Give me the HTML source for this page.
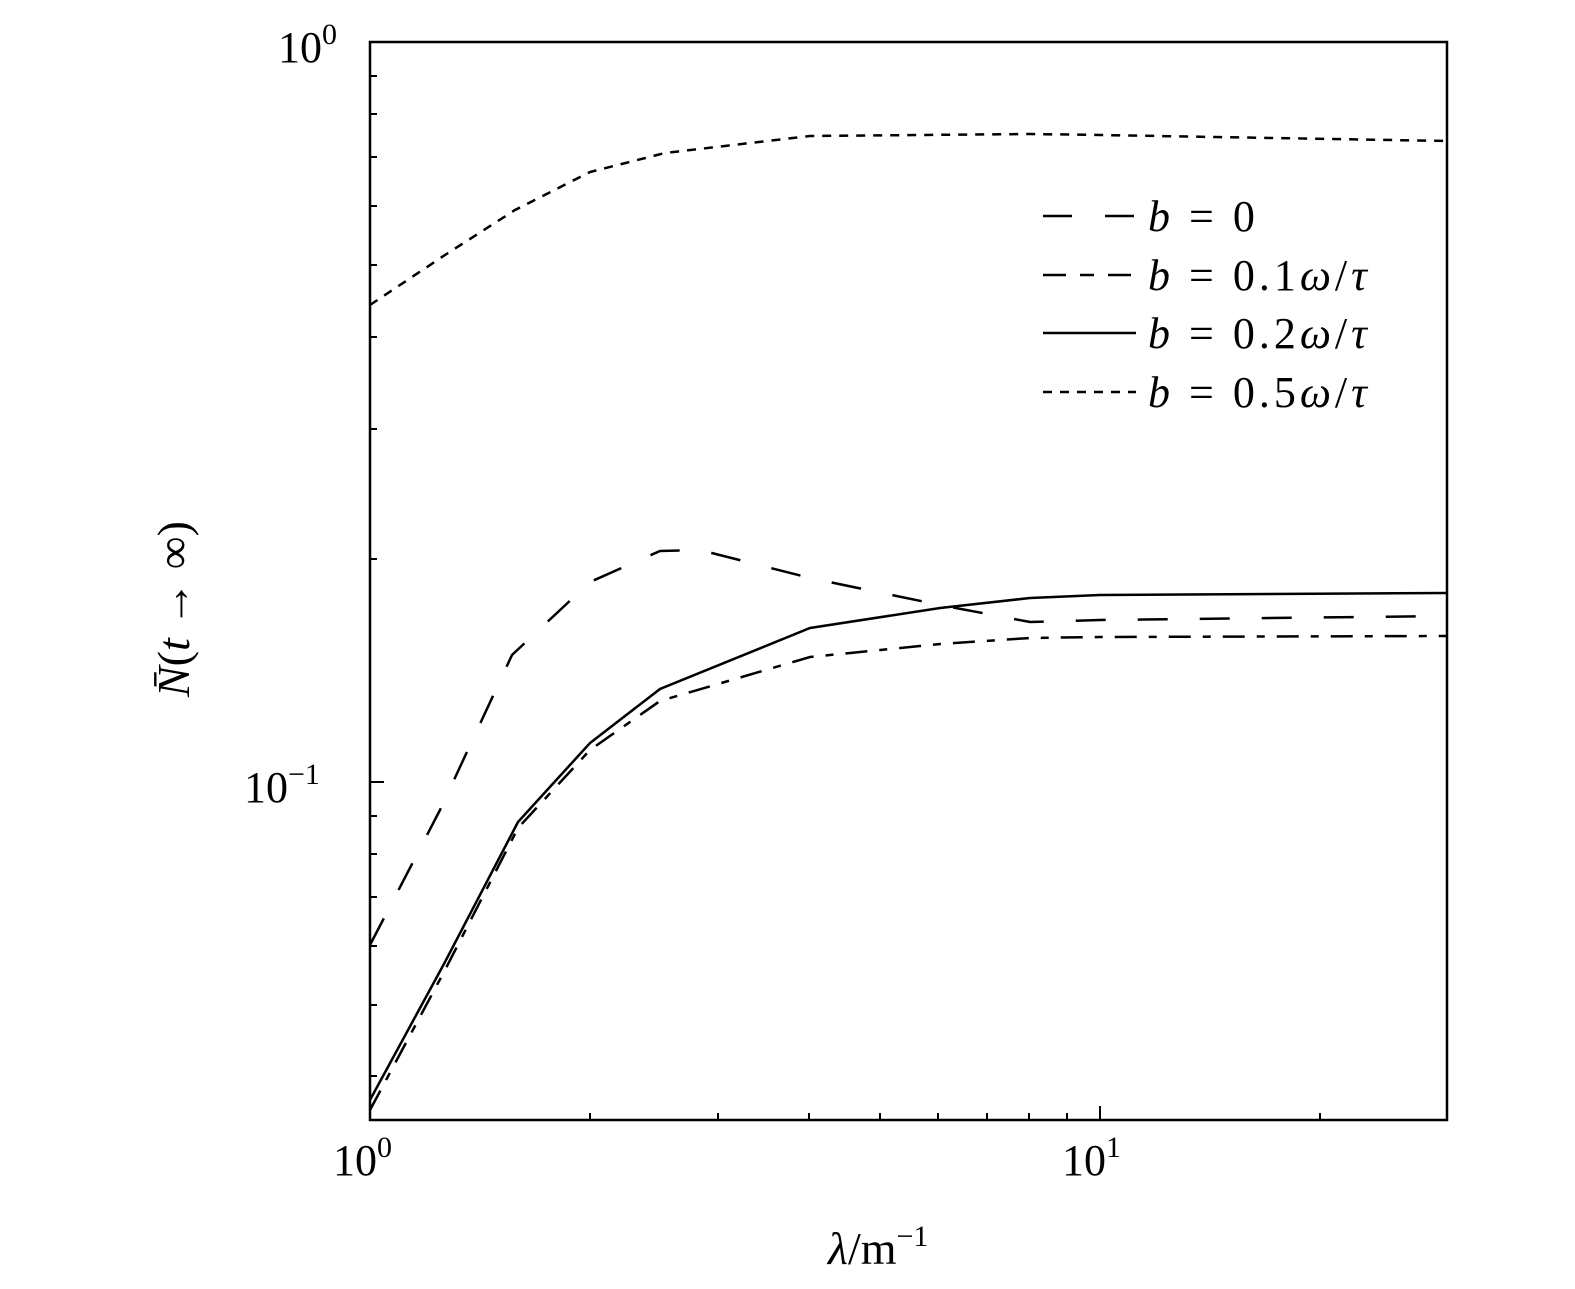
<!DOCTYPE html>
<html><head><meta charset="utf-8"><style>body{margin:0;background:#fff}svg{display:block}</style></head><body>
<svg width="1575" height="1289" xmlns="http://www.w3.org/2000/svg" font-family="Liberation Serif, serif">
<rect width="1575" height="1289" fill="#fff"/>
<g stroke="#000" stroke-width="2" fill="none">
<path d="M370,42V1120H1447V42H370Z" stroke-width="2.5"/>
<path d="M1100,1120v-14M590,1120v-7M718,1120v-7M809,1120v-7M880,1120v-7M938,1120v-7M987,1120v-7M1029,1120v-7M1067,1120v-7M1320,1120v-7"/>
<path d="M370,782h14M370,559h7M370,429h7M370,337h7M370,265h7M370,206h7M370,157h7M370,114h7M370,76h7M370,1076h7M370,1005h7M370,946h7M370,897h7M370,854h7M370,816h7"/>
</g>
<g fill="none" stroke="#000" stroke-width="2.5">
<polyline stroke-dasharray="9 8" points="370,305 445,255 515,210 590,172 665,153 810,136 1030,134 1100,135 1447,141"/>
<polyline stroke-dasharray="30 32" points="370,945 440,810 512,655 590,582 660,551 700,550 810,578 940,605 1030,622 1100,620 1447,616"/>
<polyline points="370,1100 445,962 518,822 590,743 660,689 810,628 940,608 1030,598 1100,595 1447,593"/>
<polyline stroke-dasharray="22 12 8 12" points="370,1110 445,970 518,828 590,750 660,701 810,657 940,644 1030,638 1100,637 1447,636"/>
<line x1="1043" y1="216" x2="1136" y2="216" stroke-dasharray="29 33"/>
<line x1="1043" y1="275" x2="1136" y2="275" stroke-dasharray="23 14 14 14"/>
<line x1="1043" y1="333" x2="1136" y2="333"/>
<line x1="1043" y1="392" x2="1136" y2="392" stroke-dasharray="9 8"/>
</g>
<g font-size="44" fill="#000">
<text x="1148" y="231" letter-spacing="4"><tspan font-style="italic">b</tspan> <tspan>=</tspan> 0</text>
<text x="1148" y="290" letter-spacing="4"><tspan font-style="italic">b</tspan> = 0.1<tspan font-style="italic">ω</tspan>/<tspan font-style="italic">τ</tspan></text>
<text x="1148" y="348" letter-spacing="4"><tspan font-style="italic">b</tspan> = 0.2<tspan font-style="italic">ω</tspan>/<tspan font-style="italic">τ</tspan></text>
<text x="1148" y="407" letter-spacing="4"><tspan font-style="italic">b</tspan> = 0.5<tspan font-style="italic">ω</tspan>/<tspan font-style="italic">τ</tspan></text>
<text x="278" y="62" font-size="44">10<tspan font-size="30" dy="-18">0</tspan></text>
<text x="244" y="802" font-size="44">10<tspan font-size="30" dy="-18">−1</tspan></text>
<text x="333" y="1175" font-size="44">10<tspan font-size="30" dy="-18">0</tspan></text>
<text x="1062" y="1175" font-size="44">10<tspan font-size="30" dy="-18">1</tspan></text>
<text x="828" y="1264" font-size="46"><tspan font-style="italic">λ</tspan>/m<tspan font-size="30" dy="-18">−1</tspan></text>
<text transform="translate(189,697) rotate(-90)" font-size="46"><tspan font-style="italic">N̄</tspan>(<tspan font-style="italic">t</tspan> → ∞)</text>
</g>
</svg>
</body></html>
